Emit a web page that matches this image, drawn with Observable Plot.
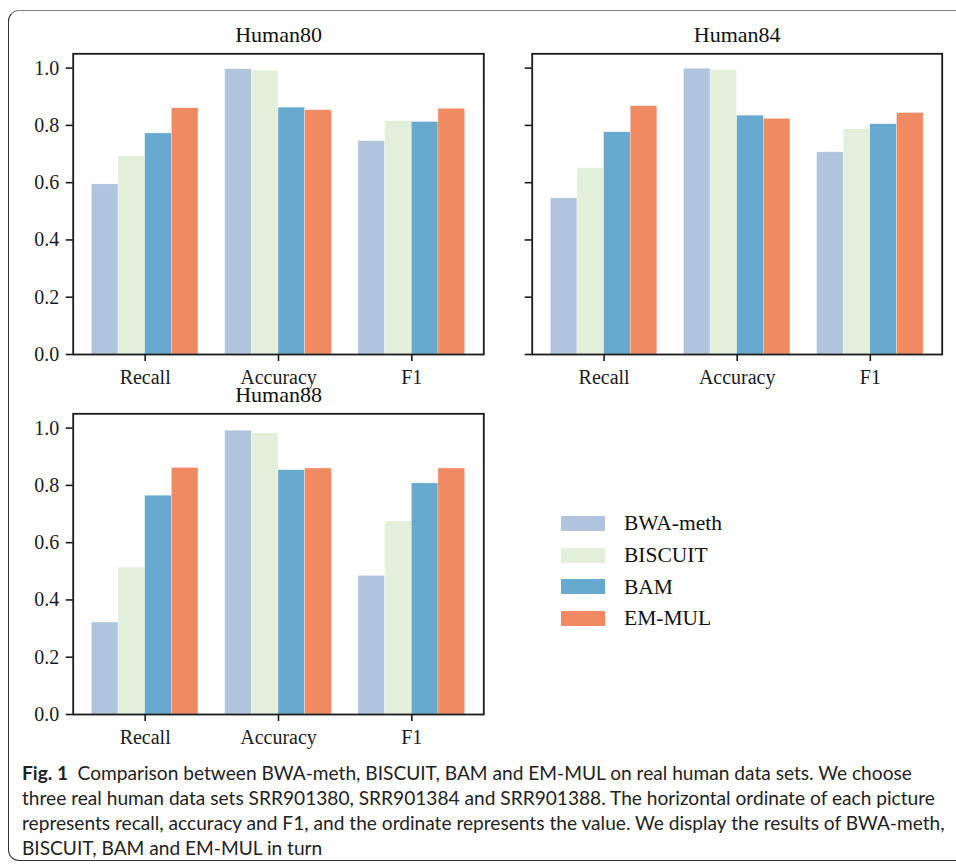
<!DOCTYPE html>
<html>
<head>
<meta charset="utf-8">
<script src="https://cdn.jsdelivr.net/npm/d3@7"></script>
<script src="https://cdn.jsdelivr.net/npm/@observablehq/plot@0.6"></script>
<style>
  html, body { margin: 0; padding: 0; background: #fff; }
  #fig { position: relative; width: 956px; height: 864px; overflow: hidden; background: #fff; }
  #border { position: absolute; left: 8px; top: 10px; width: 990px; height: 851px; box-sizing: border-box;
            border: 1.4px solid #333; border-top-color: #808080; border-radius: 11px; }
  .panel { position: absolute; }
  .panel svg { background: transparent !important; max-width: none !important; overflow: visible; }
  .leg-sw { position: absolute; width: 44px; height: 15px; }
  .leg-tx { position: absolute; font-family: "Liberation Serif", "Times New Roman", serif; font-size: 21.5px; color: #111; line-height: 22px; white-space: nowrap; }
  .cap { position: absolute; left: 22px; white-space: nowrap; color: #222; font-family: "Liberation Sans Narrow", Lato, "Open Sans", sans-serif; }
  .cap b { font-weight: 700; }
</style>
</head>
<body>
<div id="fig">
  <div id="border"></div>
  <div id="p0" class="panel" style="left:0px;top:0px"></div>
  <div id="p1" class="panel" style="left:480px;top:0px"></div>
  <div id="p2" class="panel" style="left:0px;top:380px"></div>
  <div id="legend"></div>
  <div id="caption"></div>
</div>
<script>
// ---- data ----
const metrics = ["Recall", "Accuracy", "F1"];
const methods = ["BWA-meth", "BISCUIT", "BAM", "EM-MUL"];
const colors = ["#b0c4de", "#e2efda", "#67a9cf", "#ef8a62"];
const yTicks = [0.0, 0.2, 0.4, 0.6, 0.8, 1.0];
const panelTitles = ["Human80", "Human84", "Human88"];
// rows: methods, columns: metrics (Recall, Accuracy, F1)
const human80 = [
  [0.594, 0.996, 0.745],
  [0.692, 0.991, 0.815],
  [0.772, 0.862, 0.812],
  [0.860, 0.853, 0.858]
];
const human84 = [
  [0.545, 0.998, 0.706],
  [0.650, 0.994, 0.786],
  [0.776, 0.834, 0.804],
  [0.867, 0.823, 0.843]
];
const human88 = [
  [0.321, 0.991, 0.484],
  [0.513, 0.982, 0.674],
  [0.764, 0.853, 0.807],
  [0.861, 0.859, 0.859]
];
const captionLines = [
  ["Fig. 1", "Comparison between BWA-meth, BISCUIT, BAM and EM-MUL on real human data sets. We choose"],
  [null, "three real human data sets SRR901380, SRR901384 and SRR901388. The horizontal ordinate of each picture"],
  [null, "represents recall, accuracy and F1, and the ordinate represents the value. We display the results of BWA-meth,"],
  [null, "BISCUIT, BAM and EM-MUL in turn"]
];

// ---- drawing ----
const barW = 0.8 / methods.length;
function rows(table) {
  const out = [];
  metrics.forEach((m, i) => methods.forEach((s, j) => out.push({metric: m, mi: i, method: s, mj: j, value: table[j][i]})));
  return out;
}
function panel(table, title, opts) {
  return Plot.plot({
    width: opts.width, height: opts.height,
    marginLeft: opts.ml, marginRight: opts.mr, marginTop: opts.mt, marginBottom: opts.mb,
    style: {fontFamily: "'Liberation Serif', 'Times New Roman', serif", fontSize: "20px", color: "#1a1a1a", background: "transparent"},
    x: {domain: [-0.54, 2.54]},
    y: {domain: [0, 1.05]},
    color: {domain: methods, range: colors},
    marks: [
      Plot.rect(rows(table), {
        x1: d => d.mi + (d.mj - methods.length / 2) * barW,
        x2: d => d.mi + (d.mj - methods.length / 2 + 1) * barW,
        y1: 0, y2: "value", fill: "method", stroke: "white", strokeWidth: 0.5, strokeOpacity: 0.6
      }),
      Plot.axisX({ticks: [0, 1, 2], tickFormat: i => metrics[i], tickSize: 7, tickPadding: 8, strokeWidth: 1.6, label: null}),
      Plot.axisY({ticks: yTicks, tickFormat: opts.ylabels ? d3.format(".1f") : () => "", tickSize: 7, tickPadding: 7, strokeWidth: 1.6, label: null}),
      Plot.frame({stroke: "#1a1a1a", strokeWidth: 1.8}),
      Plot.text([title], {text: d => d, frameAnchor: "top", lineAnchor: "bottom", dy: -12, fontSize: 22, fill: "#111"})
    ]
  });
}
document.getElementById("p0").append(panel(human80, panelTitles[0], {width: 500, height: 400, ml: 72.7, mr: 16.7, mt: 53.3, mb: 46, ylabels: true}));
document.getElementById("p1").append(panel(human84, panelTitles[1], {width: 476, height: 400, ml: 51.7, mr: 14.3, mt: 53.3, mb: 46, ylabels: false}));
document.getElementById("p2").append(panel(human88, panelTitles[2], {width: 500, height: 380, ml: 72.7, mr: 16.7, mt: 33.3, mb: 46, ylabels: true}));

// legend
const leg = document.getElementById("legend");
methods.forEach((m, i) => {
  const cy = 523.3 + i * 31.7;
  const sw = document.createElement("div");
  sw.className = "leg-sw";
  sw.style.left = "561px"; sw.style.top = (cy - 7.5) + "px"; sw.style.background = colors[i];
  const tx = document.createElement("div");
  tx.className = "leg-tx";
  tx.style.left = "624px"; tx.style.top = (cy - 11) + "px";
  tx.textContent = m;
  leg.append(sw, tx);
});

// caption
const cap = document.getElementById("caption");
const fam = getComputedStyle(document.createElement("div")).fontFamily;
const canvas = document.createElement("canvas").getContext("2d");
canvas.font = "20px 'Liberation Sans Narrow', Lato, 'Open Sans', sans-serif";
const w3 = canvas.measureText(captionLines[2][1]).width;
const capSize = Math.max(14, Math.min(24, 20 * 925 / w3));
captionLines.forEach((ln, i) => {
  const d = document.createElement("div");
  d.className = "cap";
  d.style.fontSize = capSize + "px";
  d.style.lineHeight = "25px";
  d.style.top = (760 + i * 25) + "px";
  if (ln[0]) {
    const b = document.createElement("b");
    b.textContent = ln[0];
    d.append(b, document.createTextNode("\u2002" + ln[1]));
  } else d.textContent = ln[1];
  cap.append(d);
});
</script>
</body>
</html>
